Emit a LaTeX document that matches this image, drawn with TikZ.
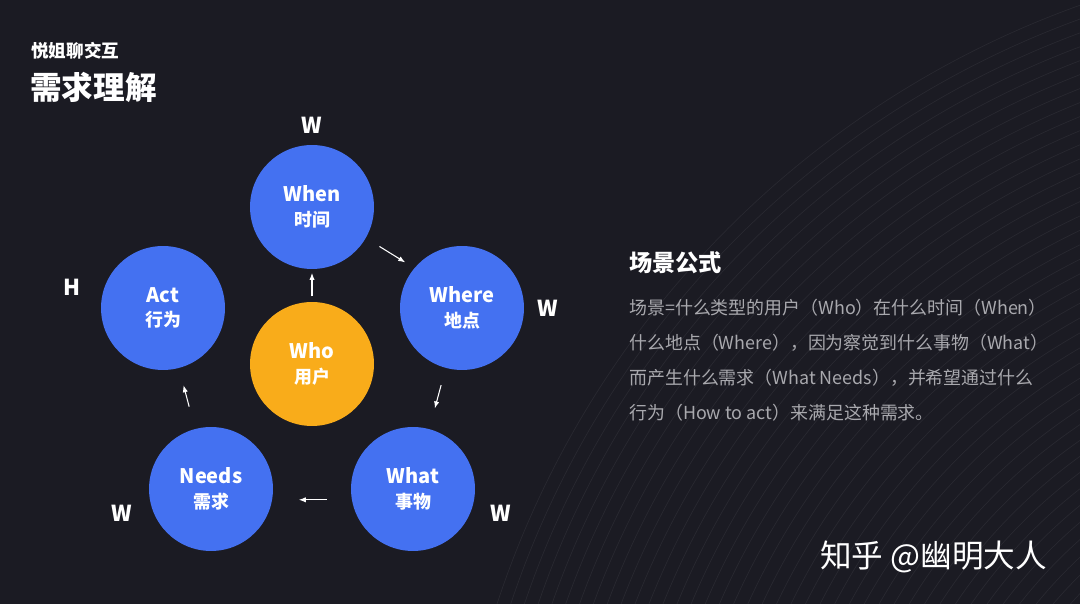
\documentclass[tikz,border=0pt]{standalone}
\usepackage{fontspec}
\setmainfont{Noto Sans CJK SC}
\usepackage{xcolor}
\usepackage{tikz}
\usetikzlibrary{arrows.meta,positioning}

\definecolor{bgdark}{HTML}{1B1B23}
\definecolor{circblue}{HTML}{4471F1}
\definecolor{circorange}{HTML}{F9AC1A}
\definecolor{bodygray}{HTML}{A9A9AE}

\newcommand{\bublabel}[2]{{\fontsize{11.4}{14}\selectfont\bfseries #1}\\[2pt]{\fontsize{10.2}{14}\selectfont\bfseries #2}}

\begin{document}
\begin{tikzpicture}[x=0.02cm,y=-0.02cm,
    bubble/.style={circle,fill=circblue,minimum size=2.48cm,inner sep=0pt,text=white,align=center},
    flowarrow/.style={white,line width=0.6pt,-{Latex[length=4pt,width=3pt]}},
    wletter/.style={text=white,font=\fontsize{12.5}{14}\selectfont\bfseries},
    bodytext/.style={text=bodygray,anchor=west,font=\fontsize{10.2}{19.9}\selectfont,align=left,inner sep=0pt}]
    % Background
    \fill[bgdark] (0,0) rectangle (1080,604);
    \useasboundingbox (0,0) rectangle (1080,604);
    \begin{scope}
        \clip (0,0) rectangle (1080,604);
        \foreach \r in {300,313,...,950}
            \draw[white,opacity=0.06,line width=0.4pt] (1400,900) circle[radius=\r];
    \end{scope}

    % Titles
    \node[anchor=west,inner sep=0pt,text=white,font=\fontsize{10}{12}\selectfont\bfseries] (brand) at (31,51) {悦姐聊交互};
    \node[anchor=west,inner sep=0pt,text=white,font=\fontsize{18}{20}\selectfont\bfseries] (title) at (30,87) {需求理解};

    % Circles
    \node[bubble] (when) at (312,207) {\bublabel{When}{时间}};
    \node[bubble] (where) at (462,308) {\bublabel{Where}{地点}};
    \node[bubble] (what) at (413,489) {\bublabel{What}{事物}};
    \node[bubble] (needs) at (211,489) {\bublabel{Needs}{需求}};
    \node[bubble] (act) at (163,308) {\bublabel{Act}{行为}};
    \node[bubble,fill=circorange] (who) at (312,364) {\bublabel{Who}{用户}};

    % Arrows
    \draw[flowarrow,shorten <=3pt,shorten >=2pt] (who) -- (when);
    \draw[flowarrow,shorten <=9pt,shorten >=6pt] (when.330) -- (where.140);
    \draw[flowarrow,shorten <=10pt,shorten >=12pt] (where) -- (what);
    \draw[flowarrow,shorten <=14pt,shorten >=15pt] (what.190) -- (needs.350);
    \draw[flowarrow,shorten <=13pt,shorten >=10pt] (needs) -- (act);

    % Letters
    \node[wletter] (lwhen) at (312,125) {W};
    \node[wletter] (lwhere) at (548,308) {W};
    \node[wletter] (lwhat) at (501,513) {W};
    \node[wletter] (lneeds) at (122,513) {W};
    \node[wletter] (lact) at (72,287) {H};

    % Formula text
    \node[anchor=west,inner sep=0pt,text=white,font=\fontsize{13.2}{15}\selectfont\bfseries] (formula) at (629,263) {场景公式};
    \node[bodytext] (body) at (629,360) {场景=什么类型的用户（Who）在什么时间（When）\\
        什么地点（Where），因为察觉到什么事物（What）\\
        而产生什么需求（What Needs），并希望通过什么\\
        行为（How to act）来满足这种需求。};

    % Watermark
    \node[anchor=west,inner sep=0pt,text=white,font=\fontsize{18}{20}\selectfont] (mark) at (820,557) {知乎 @幽明大人};
\end{tikzpicture}
\end{document}
